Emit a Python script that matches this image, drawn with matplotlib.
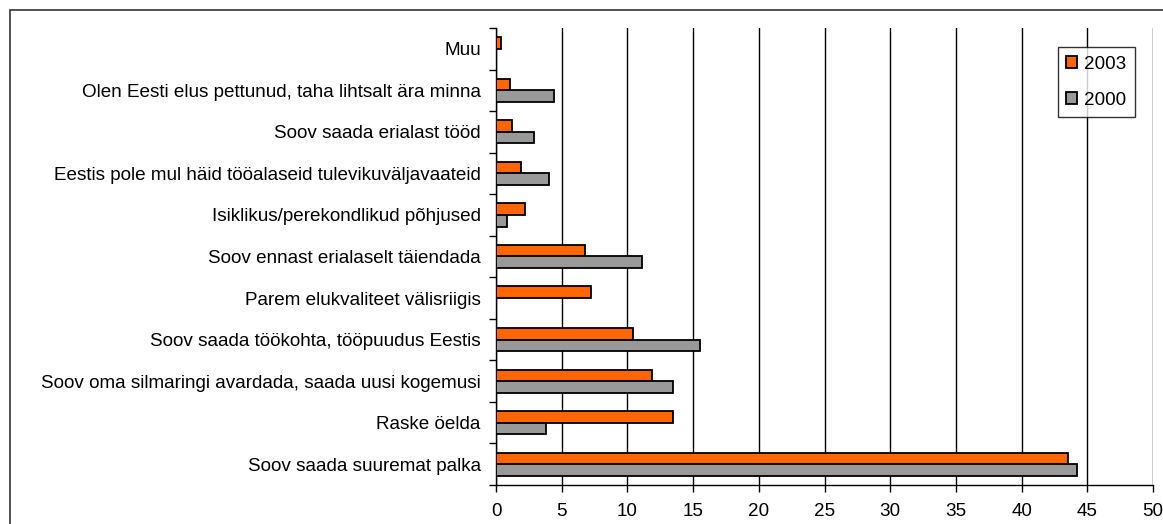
import matplotlib
matplotlib.use('Agg')
import matplotlib.pyplot as plt
import numpy as np
from matplotlib.patches import Rectangle

# categories bottom to top, as drawn
categories = [
    'Soov saada suuremat palka',
    'Raske öelda',
    'Soov oma silmaringi avardada, saada uusi kogemusi',
    'Soov saada töökohta, tööpuudus Eestis',
    'Parem elukvaliteet välisriigis',
    'Soov ennast erialaselt täiendada',
    'Isiklikus/perekondlikud põhjused',
    'Eestis pole mul häid tööalaseid tulevikuväljavaateid',
    'Soov saada erialast tööd',
    'Olen Eesti elus pettunud, taha lihtsalt ära minna',
    'Muu',
]
values_2003 = [43.5, 13.5, 11.9, 10.4, 7.2, 6.8, 2.2, 1.9, 1.2, 1.1, 0.4]
values_2000 = [44.2, 3.8, 13.5, 15.5, 0.0, 11.1, 0.8, 4.0, 2.9, 4.4, 0.0]
x_ticks = [0, 5, 10, 15, 20, 25, 30, 35, 40, 45, 50]

plt.rcParams['font.family'] = ['Liberation Sans', 'DejaVu Sans']
FS = 13.6

fig = plt.figure(figsize=(11.63, 5.24), dpi=100)
ax = fig.add_axes([496 / 1163, 1 - 485 / 524, (1153 - 496) / 1163, (485 - 28) / 524])

# outer chart frame
fig.patches.append(Rectangle((10 / 1163, -0.05), 1.2, 1 - 10 / 524 + 0.05,
                             transform=fig.transFigure, fill=False,
                             edgecolor='#333333', linewidth=1.2))

y = np.arange(len(categories))
h = 0.28
ax.barh(y + h / 2, values_2003, height=h, color='#ff6600', edgecolor='black',
        linewidth=1.3, label='2003', zorder=3)
ax.barh(y - h / 2, values_2000, height=h, color='#999999', edgecolor='black',
        linewidth=1.3, label='2000', zorder=3)

ax.set_xlim(0, 50)
ax.set_ylim(-0.5, len(categories) - 0.5)
ax.set_xticks(x_ticks)
ax.set_xticklabels([str(t) for t in x_ticks], fontsize=FS)
ax.set_yticks(y)
ax.set_yticklabels(categories, fontsize=FS)
ax.set_yticks(np.arange(-0.5, len(categories), 1), minor=True)
ax.tick_params(axis='y', which='major', length=0, pad=11)
ax.tick_params(axis='y', which='minor', length=5, width=1)
ax.tick_params(axis='x', length=5, width=1, pad=8)
ax.xaxis.grid(True, color='black', linewidth=1, zorder=0)

for side in ['top', 'right']:
    ax.spines[side].set_visible(False)
ax.spines['left'].set_linewidth(1)
ax.spines['bottom'].set_linewidth(1)

leg = ax.legend(loc='upper right', bbox_to_anchor=(0.9726, 0.958), fontsize=FS,
                frameon=True, fancybox=False, edgecolor='black',
                handlelength=0.55, handleheight=0.55, handletextpad=0.4,
                labelspacing=1.0, borderpad=0.45, borderaxespad=0)
leg.get_frame().set_linewidth(1)

fig.savefig('out.png', dpi=100)
